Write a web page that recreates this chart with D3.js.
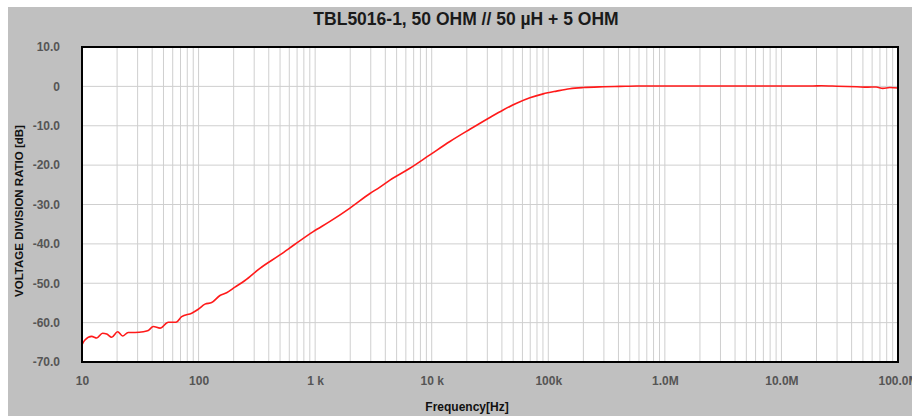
<!DOCTYPE html>
<meta charset="utf-8">
<script src="https://d3js.org/d3.v7.min.js"></script>
<style>
    body { margin: 0; background: #fff; }
    text { font-family: "Liberation Sans", Arial, sans-serif; }
</style>
<body>
<div id="chart"></div>
<script>

    // frequency in Hz and voltage division ratio in dB
    var freqs = [10, 10.6, 12.1, 13.4, 15.0, 16.3, 18.0, 20.2, 22.3, 24.9, 28.5, 33.6, 37.0, 40.9, 46.7,
        55.0, 64.0, 71.6, 87.3, 99.4, 113.5, 129.5, 152.6, 174, 205, 250, 336, 499, 671, 963, 1340,
        1989, 2951, 3595, 4380, 6500, 9650, 14320, 21260, 31550, 41020, 53460, 69500, 90400, 117800,
        153100, 199200, 295700, 411000, 575000, 2e6, 8e6, 18.6e6, 22e6, 30e6, 44.4e6, 55e6, 65e6, 74e6, 85e6, 100e6];
    var ratioDb = [-65.6, -64.4, -63.5, -63.9, -62.7, -62.9, -63.7, -62.3, -63.4, -62.5, -62.5, -62.3, -62.0, -61.0, -61.4,
        -59.9, -59.9, -58.5, -57.6, -56.6, -55.3, -54.9, -53.1, -52.4, -51.0, -49.3, -46.2, -42.8, -40.1, -36.9, -34.3,
        -30.9, -27.2, -25.6, -23.8, -20.8, -17.4, -14.0, -10.9, -7.9, -6.0, -4.3, -2.9, -1.9, -1.2,
        -0.6, -0.3, -0.1, 0, 0.1, 0.1, 0.1, 0.1, 0.15, 0.05, -0.1, -0.2, -0.15, -0.5, -0.3, -0.4];

    var xTicks = [10, 100, 1e3, 1e4, 1e5, 1e6, 1e7, 1e8];
    var xTickLabels = ["10", "100", "1  k", "10 k", "100k", "1.0M", "10.0M", "100.0M"];
    var yTicks = [10, 0, -10, -20, -30, -40, -50, -60, -70];
    var yTickLabels = ["10.0", "0", "-10.0", "-20.0", "-30.0", "-40.0", "-50.0", "-60.0", "-70.0"];

    var W = 912, H = 416;
    var margin = { top: 47, right: 14, bottom: 54, left: 82 },
        width = W - margin.left - margin.right,
        height = H - margin.top - margin.bottom;

    var svg = d3.select("#chart").append("svg")
        .attr("width", W)
        .attr("height", H);

    // grey panel
    svg.append("rect")
        .attr("x", 8).attr("y", 7)
        .attr("width", W - 8).attr("height", H - 7)
        .attr("fill", "#c0c0c0");

    var g = svg.append("g")
        .attr("transform", "translate(" + margin.left + "," + margin.top + ")");

    var x = d3.scaleLog().domain([10, 1e8]).range([0, width]);
    var y = d3.scaleLinear().domain([-70, 10]).range([height, 0]);

    g.append("rect")
        .attr("width", width).attr("height", height)
        .attr("fill", "#fff");

    // grid
    g.append("g")
        .selectAll("line")
        .data(x.ticks())
        .enter().append("line")
        .attr("x1", function (d) { return x(d); })
        .attr("x2", function (d) { return x(d); })
        .attr("y1", 0).attr("y2", height)
        .attr("stroke", "#cfcfcf");

    g.append("g")
        .selectAll("line")
        .data(yTicks)
        .enter().append("line")
        .attr("y1", function (d) { return y(d); })
        .attr("y2", function (d) { return y(d); })
        .attr("x1", 0).attr("x2", width)
        .attr("stroke", "#cfcfcf");

    // curve
    var pts = freqs.map(function (f, i) { return [f, ratioDb[i]]; });
    g.append("path")
        .datum(pts)
        .attr("fill", "none")
        .attr("stroke", "#ff1a1a")
        .attr("stroke-width", 1.6)
        .attr("d", d3.line()
            .x(function (d) { return x(d[0]); })
            .y(function (d) { return y(d[1]); })
            .curve(d3.curveMonotoneX));

    // frame
    g.append("rect")
        .attr("width", width).attr("height", height)
        .attr("fill", "none")
        .attr("stroke", "#000")
        .attr("stroke-width", 2);

    // axes (labels only)
    var xAxis = g.append("g")
        .attr("transform", "translate(0," + height + ")")
        .call(d3.axisBottom(x).tickValues(xTicks).tickSize(0).tickPadding(14)
            .tickFormat(function (d, i) { return xTickLabels[i]; }));
    var yAxis = g.append("g")
        .call(d3.axisLeft(y).tickValues(yTicks).tickSize(0).tickPadding(22)
            .tickFormat(function (d, i) { return yTickLabels[i]; }));
    [xAxis, yAxis].forEach(function (a) {
        a.select(".domain").remove();
        a.selectAll("text")
            .attr("font-family", "Liberation Sans, Arial, sans-serif")
            .attr("font-size", 12)
            .attr("font-weight", "bold")
            .attr("fill", "#555");
    });

    // titles
    svg.append("text")
        .attr("x", 466).attr("y", 25)
        .attr("text-anchor", "middle")
        .attr("font-size", 17.5)
        .attr("font-weight", "bold")
        .attr("fill", "#1a1a1a")
        .text("TBL5016-1, 50 OHM // 50 µH + 5 OHM");

    svg.append("text")
        .attr("x", 467).attr("y", 411)
        .attr("text-anchor", "middle")
        .attr("font-size", 12)
        .attr("font-weight", "bold")
        .attr("fill", "#111")
        .text("Frequency[Hz]");

    svg.append("text")
        .attr("transform", "translate(23,211) rotate(-90)")
        .attr("text-anchor", "middle")
        .attr("font-size", 11.5)
        .attr("font-weight", "bold")
        .attr("fill", "#111")
        .text("VOLTAGE DIVISION RATIO [dB]");

</script>
</body>
